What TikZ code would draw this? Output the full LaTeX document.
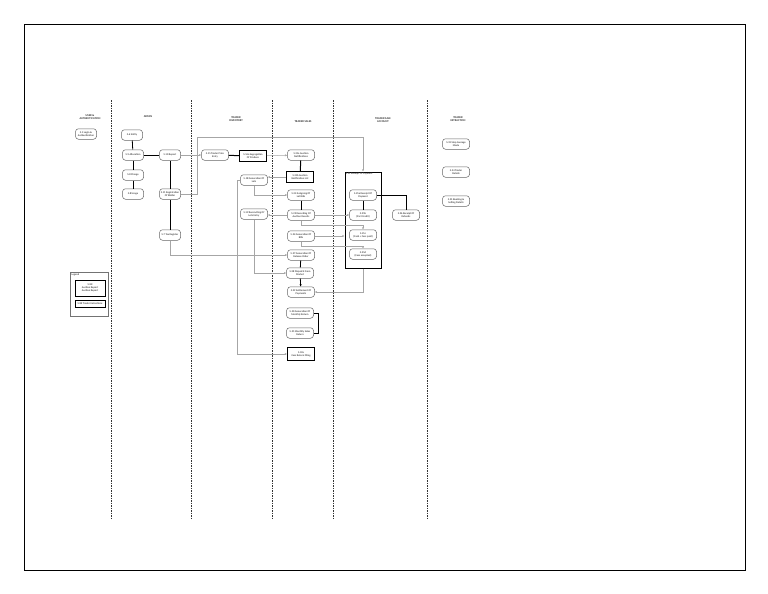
\documentclass[tikz,border=0pt]{standalone}
\usepackage{fontspec}
\setmainfont{Carlito}
\usetikzlibrary{arrows.meta}

\begin{document}
\begin{tikzpicture}[x=1pt,y=-1pt,
  every node/.style={font=\fontsize{2.6}{3}\selectfont\bfseries, text=black!70, align=center},
  lanehead/.style={font=\fontsize{2.8}{3.3}\selectfont\bfseries, text=black!80},
  proc/.style={draw=black!60, line width=0.5pt, rounded corners=3pt, fill=white, minimum width=21pt, minimum height=10.5pt, inner sep=0.5pt},
  wproc/.style={proc, minimum width=27pt},
  pbox/.style={draw=black, line width=1pt, fill=white, minimum width=27pt, minimum height=11pt, inner sep=0.5pt},
  lane/.style={draw=black!80, line width=0.7pt, dash pattern=on 1.5pt off 1pt},
  flow/.style={draw=black, line width=0.8pt},
  feed/.style={draw=black!35, line width=0.5pt},
  >={Stealth[length=2.4pt,width=2pt]}]
  \useasboundingbox (0,0) rectangle (768,594);
  \draw[black, line width=0.8pt] (24,24) rectangle (745,570);

  % swim lanes
  \foreach \x in {111,191,272,333,427}
    \draw[lane] (\x,100) -- (\x,520);

  \node[lanehead] (hduser) at (90,117) {USER \&\\AUTHENTICATION};
  \node[lanehead] (hdadmin) at (148,117) {ADMIN};
  \node[lanehead] (hdinv) at (236,119) {TRADER\\INVENTORY};
  \node[lanehead] (hdsales) at (303,122) {TRADER SALES};
  \node[lanehead] (hdacc) at (383,120) {TRADER SALE\\ACCOUNT};
  \node[lanehead] (hdext) at (458,119) {TRADER\\EXTRACTION};

  % user
  \node[proc] (b51) at (86,134) {5.1 Login \&\\Authentication};

  % legend
  \node[draw=black!55, line width=0.4pt, minimum width=38pt, minimum height=44pt] (legend) at (89,294) {};
  \node[anchor=north west, inner sep=1.5pt] (leghd) at (legend.north west) {Legend};
  \node[pbox, minimum width=30pt, minimum height=16pt] (legp) at (90,288) {5.XX\\Auction Report\\Auction Report};
  \node[pbox, minimum width=30pt, minimum height=7pt] (legt) at (90,304) {5.XX Trader Extractions};

  % admin
  \node[proc] (b56) at (132,135) {5.6 Entity};
  \node[proc] (b59) at (133,155) {5.9 Allocation};
  \node[proc] (b58c) at (133,175) {5.8 Charge};
  \node[proc] (b58u) at (133,194) {5.8 Usage};
  \node[proc] (b510) at (170,155) {5.10 Report};
  \node[proc] (b511) at (170,194) {5.11 Registration\\Of Bidder};
  \node[proc] (b57) at (170,235) {5.7 Tax Register};

  % trader inventory
  \node[wproc] (b515) at (215,155) {5.15 Trader Price\\Entry};
  \node[pbox] (b516) at (253,156) {5.16a Segregation\\Of Produce};
  \node[wproc] (b518) at (254,180) {5.18 Generation Of\\Lots};
  \node[wproc] (b519) at (254,214) {5.19 Reconciling Of\\Lots Entry};

  % trader sales
  \node[wproc] (b521a) at (301,155) {5.21a Auction\\Notifications};
  \node[pbox] (b521b) at (300,177) {5.21b Auction\\Notification List};
  \node[wproc] (b522) at (301,195) {5.22 Assigning Of\\Lot Bids};
  \node[wproc] (b523) at (301,215) {5.23 Recording Of\\Auction Results};
  \node[wproc] (b524) at (301,236) {5.24 Generation Of\\Bills};
  \node[wproc] (b527) at (301,255) {5.27 Generation Of\\Release Order};
  \node[wproc] (b528) at (300,273) {5.28 Dispatch From\\Market};
  \node[wproc] (b529) at (301,292) {5.29 Settlement Of\\Payments};
  \node[wproc] (b530) at (300,313) {5.30 Generation Of\\Monthly Return};
  \node[wproc] (b531) at (300,333) {5.31 Monthly Sales\\Return};
  \node[pbox, minimum height=13pt] (b532) at (301,354) {5.32a\\Cess Return Filing};

  % trader sale account
  \node[pbox, minimum width=36pt, minimum height=96pt] (sacc) at (363,220) {};
  \node[anchor=north west, inner sep=1.2pt] (sacchd) at (sacc.north west) {5.25 Receipt Of Payment};
  \node[wproc] (b525a) at (363,195) {5.25a Receipt Of\\Payment};
  \node[wproc] (b525b) at (363,215) {5.25b\\(Part Credit)};
  \node[wproc] (b525c) at (363,235) {5.25c\\(Cash + Cess paid)};
  \node[wproc] (b525d) at (363,254) {5.25d\\(Cess accepted)};
  \node[wproc] (b526) at (406,215) {5.26 Receipt Of\\Refunds};

  % trader extraction
  \node[wproc] (b533) at (456,144) {5.33 Stop Average\\Mode};
  \node[wproc] (b534) at (456,172) {5.34 Trader\\Details};
  \node[wproc] (b535) at (456,201) {5.35 Booking \&\\Selling Details};

  % admin links
  \draw[flow] (b56) -- (b59);
  \draw[flow] (b59) -- (b58c);
  \draw[flow] (b58c) -- (b58u);
  \draw[flow] (b59) -- (b510);
  \draw[flow] (b510) -- (b511);
  \draw[flow] (b511) -- (b57);
  \coordinate (topbend) at (197,137);
  \draw[feed,->] (b511.east) -| (topbend) -| (sacc.north);
  \draw[feed,->] (b510) -- (b515);
  \draw[feed,->] (b57.south) |- (b527.west);

  % inventory links
  \draw[flow, line width=1pt] (b515) -- (b516);
  \draw[feed,->] (b516) -- (b521a);
  \draw[feed,->] (b521b.west) -- (b521b.west -| b518.east);
  \draw[feed,->] (b518.south) |- (b522.west);
  \draw[feed,->] (b518.west) -- ++(-3,0) |- (b532.west);
  \draw[feed,->] (b519.south) |- (b528.west);
  \draw[feed,->] (b523.west) -- (b523.west -| b519.east);

  % sales links
  \draw[flow, line width=1pt] (b521a) -- (b521b);
  \draw[flow] (b522) -- (b523);
  \draw[feed,->] (b523.east) -- (b525b.west);
  \draw[feed,->] (b523.south) -- ++(0,5) -| (b525c.north);
  \draw[feed,->] (b524.east) -- (b524.east -| sacc.west);
  \draw[feed,->] (b524.south) -- ++(0,4.5) -| (b525d.north);
  \draw[flow] (b527) -- (b528);
  \draw[flow,->] (b528) -- (b529);
  \draw[flow] (b530.east) -- ++(5,0) |- (b531.east);

  % account links
  \draw[flow] (b525a) -- (b525b);
  \draw[flow] (b525a.east) -| (b526.north);
  \draw[feed,->] (sacc.south) |- (b529.east);
\end{tikzpicture}
\end{document}
